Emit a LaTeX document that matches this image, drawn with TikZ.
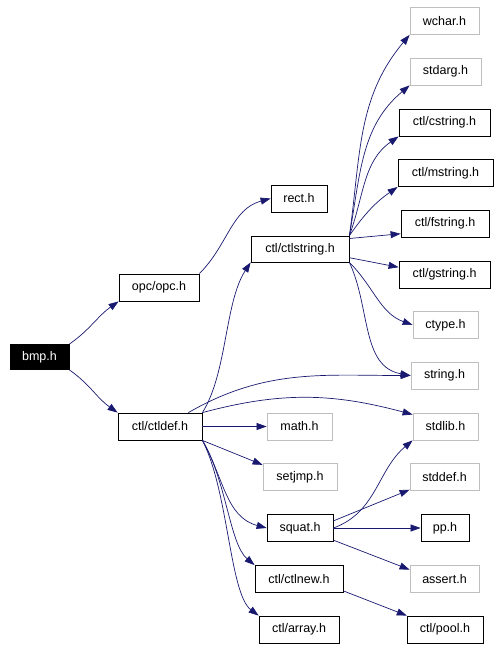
\documentclass[tikz,border=0pt]{standalone}
\usepackage{fontspec}
\setmainfont{Liberation Sans}
\usetikzlibrary{arrows.meta}
\definecolor{edgeblue}{HTML}{191970}
\definecolor{sysgray}{HTML}{BFBFBF}
\begin{document}
\begin{tikzpicture}[x=1pt, y=1pt, >={Triangle[length=10pt,width=7pt]}, header/.style={draw=black, line width=0.8pt, minimum height=27pt, inner sep=0pt, font=\fontsize{12.5}{14}\selectfont}, sysheader/.style={header, draw=sysgray}, dep/.style={->, draw=edgeblue, fill=none, line width=0.7pt}]
\useasboundingbox (0,0) rectangle (500,-650);
\node[header, fill=black, text=white, minimum width=59pt, minimum height=25pt] (bmp) at (39.5,-357) {bmp.h};
\node[header, minimum width=80pt] (opc) at (159,-287.5) {opc/opc.h};
\node[header, minimum width=84pt] (ctldef) at (160,-426.5) {ctl/ctldef.h};
\node[header, minimum width=56pt] (rect) at (299,-198.5) {rect.h};
\node[header, minimum width=98pt, minimum height=26pt] (ctlstring) at (300,-249) {ctl/ctlstring.h};
\node[sysheader, minimum width=69pt] (wchar) at (444.5,-21) {wchar.h};
\node[sysheader, minimum width=71pt] (stdarg) at (445.5,-71.5) {stdarg.h};
\node[header, minimum width=91pt] (cstring) at (444.5,-122.5) {ctl/cstring.h};
\node[header, minimum width=95pt] (mstring) at (445.5,-173) {ctl/mstring.h};
\node[header, minimum width=88pt] (fstring) at (445,-223.5) {ctl/fstring.h};
\node[header, minimum width=91pt] (gstring) at (444.5,-274.5) {ctl/gstring.h};
\node[sysheader, minimum width=65pt] (ctype) at (445.5,-325) {ctype.h};
\node[sysheader, minimum width=67pt] (string) at (444.5,-375.5) {string.h};
\node[sysheader, minimum width=65pt] (math) at (299.5,-426.5) {math.h};
\node[sysheader, minimum width=65pt] (stdlib) at (445.5,-426.5) {stdlib.h};
\node[sysheader, minimum width=74pt] (setjmp) at (300,-477) {setjmp.h};
\node[sysheader, minimum width=69pt] (stddef) at (444.5,-477) {stddef.h};
\node[header, minimum width=66pt] (squat) at (300,-528) {squat.h};
\node[header, minimum width=48pt] (pp) at (445,-528) {pp.h};
\node[header, minimum width=88pt] (ctlnew) at (299,-579) {ctl/ctlnew.h};
\node[sysheader, minimum width=69pt] (assert) at (444.5,-579) {assert.h};
\node[header, minimum width=80pt] (array) at (299,-629.5) {ctl/array.h};
\node[header, minimum width=76pt] (pool) at (445,-629.5) {ctl/pool.h};
\draw[dep] (bmp.north east) to[out=35, in=215] (opc.south west);
\draw[dep] (bmp.south east) to[out=-35, in=145] (ctldef.north west);
\draw[dep] (opc.north east) to[out=45, in=195] (rect.west);
\draw[dep] (ctldef.north east) .. controls +(25,40) and +(-26,-40) .. (ctlstring.south west);
\draw[dep] ([xshift=-14pt]ctldef.north east) to[out=30, in=180] (string.west);
\draw[dep] (ctldef.north east) to[out=15, in=165] (stdlib.160);
\draw[dep] (ctldef.east) -- (math.west);
\draw[dep] (ctldef.south east) -- (setjmp.162);
\draw[dep] (ctldef.south east) to[out=-60, in=165] (squat.west);
\draw[dep] (ctldef.south east) .. controls +(24,-40) and +(-25,21) .. (ctlnew.north west);
\draw[dep] (ctldef.south east) .. controls +(26,-50) and +(-29,22) .. (array.north west);
\draw[dep] (ctlstring.north east) to[out=82, in=230] (wchar.south west);
\draw[dep] (ctlstring.north east) to[out=80, in=220] (stdarg.south west);
\draw[dep] (ctlstring.north east) to[out=70, in=215] (cstring.south west);
\draw[dep] (ctlstring.north east) to[out=55, in=215] (mstring.south west);
\draw[dep] (ctlstring.12) -- (fstring.193);
\draw[dep] (ctlstring.-10) -- (gstring.171);
\draw[dep] (ctlstring.south east) to[out=-45, in=160] (ctype.west);
\draw[dep] (ctlstring.south east) to[out=-65, in=170] (string.west);
\draw[dep] (squat.east) to[out=20, in=220] (stdlib.south west);
\draw[dep] (squat.12) -- (stddef.200);
\draw[dep] (squat.east) -- (pp.west);
\draw[dep] (squat.-20) -- (assert.165);
\draw[dep] (ctlnew.-15) -- (pool.160);
\end{tikzpicture}
\end{document}
